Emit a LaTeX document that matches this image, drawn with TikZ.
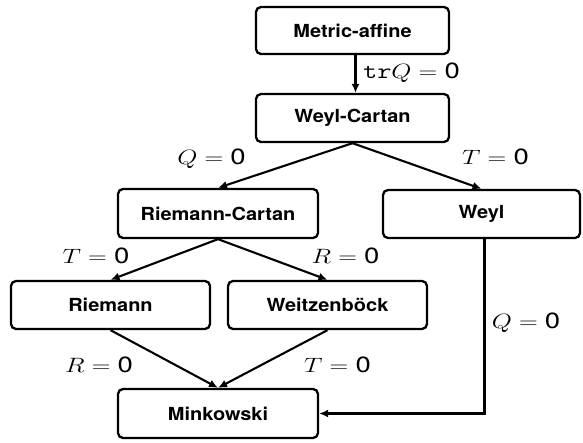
\documentclass[tikz,border=0pt]{standalone}
\usepackage{fontspec}
\usepackage{graphicx}
\usetikzlibrary{arrows.meta}
\newfontfamily\heros{TeX Gyre Heros}
\newcommand\boxtxt[1]{\scalebox{1.11}[1]{\heros\bfseries #1}}
\newcommand\lbl[1]{\scalebox{1.25}[1]{$#1$}}
\newcommand\zr{\mbox{\heros 0}}
\begin{document}
\begin{tikzpicture}[x=1pt,y=-1pt,
  box/.style={draw, line width=2.3pt, rounded corners=5pt, inner sep=0pt,
    minimum height=48pt, font=\fontsize{18}{21}\selectfont},
  lab/.style={inner sep=0pt, font=\fontsize{22}{26}\selectfont},
  arr/.style={line width=2.1pt, -{Latex[length=9pt,width=8pt]}}]
\useasboundingbox (0,0) rectangle (583,442);
\node[box, minimum width=193pt, minimum height=47pt] (ma) at (352.5,30.5) {\boxtxt{Metric-affine}};
\node[box, minimum width=193pt] (wc) at (352.5,118) {\boxtxt{Weyl-Cartan}};
\node[box, minimum width=200pt, minimum height=49pt] (rc) at (218,213.5) {\boxtxt{Riemann-Cartan}};
\node[box, minimum width=197pt] (w) at (481.5,214) {\boxtxt{Weyl}};
\node[box, minimum width=199pt] (r) at (110.5,305) {\boxtxt{Riemann}};
\node[box, minimum width=199pt] (wb) at (327.5,305) {\boxtxt{Weitzenb\"ock}};
\node[box, minimum width=200pt, minimum height=49pt] (m) at (218,413.5) {\boxtxt{Minkowski}};
\draw[arr] ([xshift=3pt]ma.south) -- ([xshift=3pt]wc.north);
\draw[arr] (wc.south) -- (rc.north);
\draw[arr] (wc.south) -- (w.north);
\draw[arr] (rc.south) -- (r.north);
\draw[arr] (rc.south) -- (wb.north);
\draw[arr] (r.south) -- (m.north);
\draw[arr] (wb.south) -- (m.north);
\draw[arr] ([xshift=3pt]w.south) |- (m.east);
\node[lab] (l1) at (411.5,73) {\lbl{\texttt{tr}Q=\zr}};
\node[lab] (l2) at (211.5,159) {\lbl{Q=\zr}};
\node[lab] (l3) at (495.5,157) {\lbl{T=\zr}};
\node[lab] (l4) at (96,256) {\lbl{T=\zr}};
\node[lab] (l5) at (345.5,256) {\lbl{R=\zr}};
\node[lab] (l6) at (99,365) {\lbl{R=\zr}};
\node[lab] (l7) at (337.5,365) {\lbl{T=\zr}};
\node[lab] (l8) at (526,323) {\lbl{Q=\zr}};
\end{tikzpicture}
\end{document}
